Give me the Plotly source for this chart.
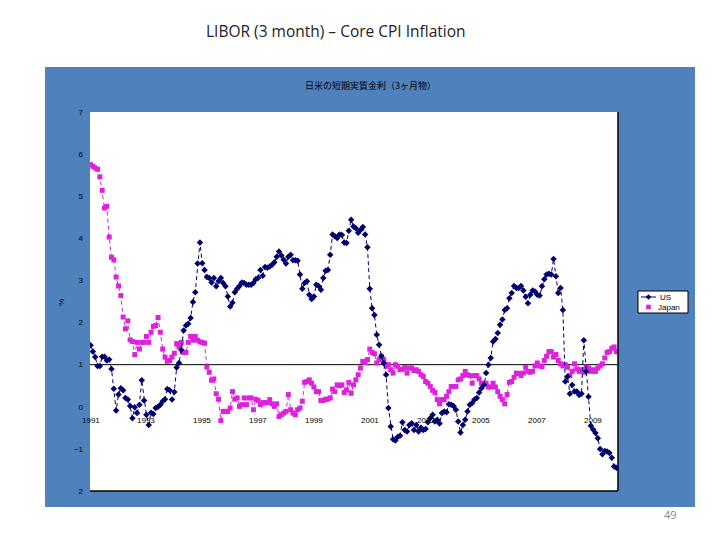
import plotly.graph_objects as go

# ---- data (monthly, starting January 1991) ----
us_values = [
    1.46, 1.31, 1.18, 0.97, 0.97, 1.19, 1.19, 1.10, 1.12, 0.90,
    0.43, -0.09, 0.29, 0.44, 0.39, 0.21, 0.17, 0.02, -0.27, -0.01,
    -0.15, 0.05, 0.63, 0.15, -0.19, -0.43, -0.14, -0.17, -0.03, 0.00,
    0.05, 0.13, 0.18, 0.42, 0.39, 0.17, 0.35, 0.93, 1.04, 1.35,
    1.81, 1.93, 1.97, 2.11, 2.49, 2.72, 3.40, 3.90, 3.41, 3.25,
    3.08, 3.06, 2.95, 3.06, 2.86, 2.98, 3.06, 2.94, 2.86, 2.62,
    2.38, 2.47, 2.72, 2.80, 2.87, 2.95, 2.94, 2.90, 2.90, 2.90,
    2.94, 3.03, 3.06, 3.25, 3.11, 3.32, 3.30,
    3.33, 3.37, 3.43, 3.56, 3.69, 3.59, 3.49, 3.40, 3.56, 3.61,
    3.48, 3.48, 3.47, 3.14, 2.80, 2.94, 2.98, 2.66, 2.56, 2.62,
    2.90, 2.87, 2.78, 3.06, 3.23, 3.25, 3.61, 4.09, 4.05, 4.01,
    4.09, 4.08, 3.90, 3.89, 4.18, 4.44, 4.28, 4.24, 4.13, 4.20,
    4.27, 4.09, 3.79, 2.80, 2.34, 2.18, 1.71, 1.47, 1.20, 1.04,
    0.76, -0.03, -0.47, -0.77, -0.80, -0.72, -0.69, -0.37, -0.55, -0.59,
    -0.43, -0.39, -0.55, -0.43, -0.59, -0.50, -0.55, -0.53, -0.37, -0.27,
    -0.19, -0.35, -0.31, -0.40, -0.15,
    -0.11, -0.13, 0.06, 0.05, 0.02, -0.07, -0.35, -0.61, -0.43, -0.31,
    -0.11, 0.05, 0.09, 0.17, 0.21, 0.34, 0.44, 0.52, 0.80, 1.00,
    1.16, 1.55, 1.61, 1.75, 1.95, 2.07, 2.30, 2.34, 2.58, 2.70,
    2.87, 2.82, 2.82, 2.87, 2.76, 2.61, 2.46, 2.66, 2.76, 2.74,
    2.66, 2.64, 2.86, 3.03, 3.14, 3.16, 3.14, 3.51, 3.10, 2.70,
    2.82, 2.30, 0.60, 0.72, 0.31, 0.52, 0.36, 0.36, 0.28, 0.31,
    1.58, 0.84, 0.24, -0.45, -0.54, -0.62, -0.75, -1.00, -1.13, -1.05,
    -1.06, -1.10, -1.21, -1.42, -1.45,
]

japan_values = [
    5.75, 5.71, 5.67, 5.64, 5.46, 5.14, 4.72, 4.76, 4.03, 3.55,
    3.49, 3.08, 2.87, 2.64, 2.13, 1.85, 2.04, 1.59, 1.55, 1.24,
    1.53, 1.37, 1.53, 1.53, 1.67, 1.53, 1.77, 1.91, 1.93, 2.12,
    1.77, 1.37, 1.18, 1.08, 1.10, 1.18, 1.27, 1.50, 1.42, 1.53,
    1.29, 1.29, 1.53, 1.67, 1.58, 1.67, 1.58, 1.54, 1.53, 1.51,
    0.94, 0.82, 0.63, 0.66, 0.31, 0.18, -0.33, -0.11, -0.11, -0.11,
    -0.03, 0.36, 0.18, 0.21, 0.01, 0.05, 0.21, 0.05, 0.21, 0.21,
    -0.07, 0.18, 0.15, 0.05, 0.10, 0.09, 0.10,
    0.17, 0.07, 0.01, 0.07, -0.23, -0.19, -0.15, -0.11, 0.29, -0.07,
    -0.15, -0.19, -0.07, -0.03, 0.13, 0.58, 0.60, 0.64, 0.56, 0.47,
    0.36, 0.36, 0.15, 0.15, 0.18, 0.18, 0.21, 0.42, 0.36, 0.52,
    0.50, 0.52, 0.34, 0.40, 0.58, 0.32, 0.52, 0.64, 0.76, 0.92,
    1.08, 1.05, 1.12, 1.37, 1.29, 1.26, 1.04, 1.12, 1.20, 1.12,
    0.96, 1.00, 0.88, 0.80, 1.00, 0.96, 0.88, 0.89, 0.93, 0.80,
    0.92, 0.92, 0.86, 0.88, 0.84, 0.76, 0.72, 0.60, 0.56, 0.48,
    0.39, 0.34, 0.17, 0.07, 0.17,
    0.17, 0.25, 0.36, 0.48, 0.48, 0.48, 0.64, 0.66, 0.74, 0.84,
    0.76, 0.74, 0.56, 0.74, 0.74, 0.66, 0.56, 0.55, 0.56, 0.47,
    0.47, 0.56, 0.47, 0.36, 0.25, 0.17, 0.07, 0.29, 0.58, 0.60,
    0.70, 0.80, 0.79, 0.74, 0.80, 0.94, 0.84, 0.82, 0.84, 0.97,
    1.04, 0.97, 0.95, 1.10, 1.20, 1.31, 1.31, 1.18, 1.24, 1.10,
    1.02, 0.97, 1.00, 0.94, 0.74, 0.84, 1.02, 0.90, 0.84, 0.88,
    0.82, 0.94, 0.92, 0.84, 0.88, 0.84, 0.92, 0.97, 1.02, 1.16,
    1.29, 1.31, 1.39, 1.42, 1.31,
]

start_year = 1991
months = [start_year + i / 12 for i in range(len(us_values))]

x_tick_years = [1991, 1993, 1995, 1997, 1999, 2001, 2003, 2005, 2007, 2009]
y_tick_values = [-2, -1, 0, 1, 2, 3, 4, 5, 6, 7]
y_tick_labels = ["2", "\u22121", "0", "1", "2", "3", "4", "5", "6", "7"]
series_names = ["US", "Japan"]

slide_title = "LIBOR (3 month) \u2013 Core CPI Inflation"
chart_title = "日米の短期実質金利（3ヶ月物）"
page_number = "49"

US_COLOR = "#000070"
JP_COLOR = "#DD22DD"
BLUE = "#4F81BD"
FONT = "Liberation Sans, Arial, sans-serif"

# plot area in pixels (for converting positions of decorations to paper coords)
PL, PR, PT, PB = 90, 618, 112, 491


def px(xp):
    return (xp - PL) / (PR - PL)


def py(yp):
    return (PB - yp) / (PB - PT)


fig = go.Figure()

fig.add_trace(go.Scatter(
    x=months, y=japan_values, mode="lines+markers", showlegend=False, name=series_names[1],
    line=dict(color=JP_COLOR, width=1, dash="4px,3px"),
    marker=dict(symbol="square", size=5, color=JP_COLOR),
))
fig.add_trace(go.Scatter(
    x=months, y=us_values, mode="lines+markers", showlegend=False, name=series_names[0],
    line=dict(color=US_COLOR, width=1, dash="4px,3px"),
    marker=dict(symbol="diamond", size=5, color=US_COLOR),
))

shapes = [
    dict(type="rect", xref="paper", yref="paper", x0=px(45), x1=px(695),
         y0=py(507), y1=py(67), fillcolor=BLUE, line=dict(width=0), layer="below"),
    dict(type="rect", xref="paper", yref="paper", x0=0, x1=1, y0=0, y1=1,
         fillcolor="white", line=dict(width=0), layer="below"),
    dict(type="line", xref="paper", yref="y", x0=0, x1=1, y0=1, y1=1,
         line=dict(color="black", width=1), layer="below"),
    dict(type="line", xref="paper", yref="paper", x0=0, x1=1, y0=0, y1=0,
         line=dict(color="black", width=1.5), layer="above"),
    dict(type="line", xref="paper", yref="paper", x0=1, x1=1, y0=0, y1=1,
         line=dict(color="black", width=1.5), layer="above"),
]

# hand-drawn legend box (compact, like the original)
lg_l, lg_r, lg_t, lg_b = 638, 688, 291, 313
shapes.append(dict(type="rect", xref="paper", yref="paper",
                   x0=px(lg_l), x1=px(lg_r), y0=py(lg_b), y1=py(lg_t),
                   fillcolor="white", line=dict(color="black", width=1), layer="above"))
row1, row2 = 297, 307
shapes.append(dict(type="line", xref="paper", yref="paper",
                   x0=px(641), x1=px(656), y0=py(row1), y1=py(row1),
                   line=dict(color=US_COLOR, width=1), layer="above"))
cx, h = 648.5, 2.7
shapes.append(dict(type="path", xref="paper", yref="paper", layer="above",
                   path=f"M {px(cx)},{py(row1 - h)} L {px(cx + h)},{py(row1)} "
                        f"L {px(cx)},{py(row1 + h)} L {px(cx - h)},{py(row1)} Z",
                   fillcolor=US_COLOR, line=dict(width=0)))
s = 2.3
shapes.append(dict(type="rect", xref="paper", yref="paper", layer="above",
                   x0=px(cx - s), x1=px(cx + s), y0=py(row2 + s), y1=py(row2 - s),
                   fillcolor=JP_COLOR, line=dict(width=0)))

annotations = []
for yr in x_tick_years:
    annotations.append(dict(
        x=yr, y=0, xref="x", yref="y", text=str(yr), showarrow=False,
        xanchor="center", yanchor="top", yshift=-7,
        font=dict(family=FONT, size=8, color="black"),
    ))
annotations += [
    dict(x=px(658), y=py(row1), xref="paper", yref="paper", text=series_names[0],
         showarrow=False, xanchor="left", yanchor="middle",
         font=dict(family=FONT, size=8, color="black")),
    dict(x=px(656), y=py(row2), xref="paper", yref="paper", text=series_names[1],
         showarrow=False, xanchor="left", yanchor="middle",
         font=dict(family=FONT, size=8, color="black")),
    dict(x=px(62), y=2.47, xref="paper", yref="y", text="%", showarrow=False,
         xanchor="center", yanchor="middle", textangle=-90,
         font=dict(family=FONT, size=8, color="black")),
    dict(x=px(370), y=py(85), xref="paper", yref="paper", text=chart_title,
         showarrow=False, xanchor="center", yanchor="middle",
         font=dict(family="Noto Sans CJK JP", size=9, color="black")),
    dict(x=px(336), y=py(31), xref="paper", yref="paper", text=slide_title,
         showarrow=False, xanchor="center", yanchor="middle",
         font=dict(family="Open Sans, Lato, sans-serif", size=15.5, color="#222222")),
    dict(x=px(670), y=py(514), xref="paper", yref="paper", text=page_number,
         showarrow=False, xanchor="center", yanchor="middle",
         font=dict(family="Open Sans, sans-serif", size=11, color="#888888")),
]

fig.update_layout(
    width=720, height=540,
    margin=dict(l=PL, r=720 - PR, t=PT, b=540 - PB),
    paper_bgcolor="white", plot_bgcolor="rgba(0,0,0,0)",
    shapes=shapes, annotations=annotations,
    xaxis=dict(range=[1990.98, 2009.89], showticklabels=False, showgrid=False,
               zeroline=False, showline=False, ticks=""),
    yaxis=dict(range=[-2, 7], tickvals=y_tick_values, ticktext=y_tick_labels,
               showgrid=False, zeroline=False, showline=False, ticks="",
               ticklabelstandoff=6, tickfont=dict(family=FONT, size=8, color="black")),
    showlegend=False,
)

fig.write_html("out.html")
